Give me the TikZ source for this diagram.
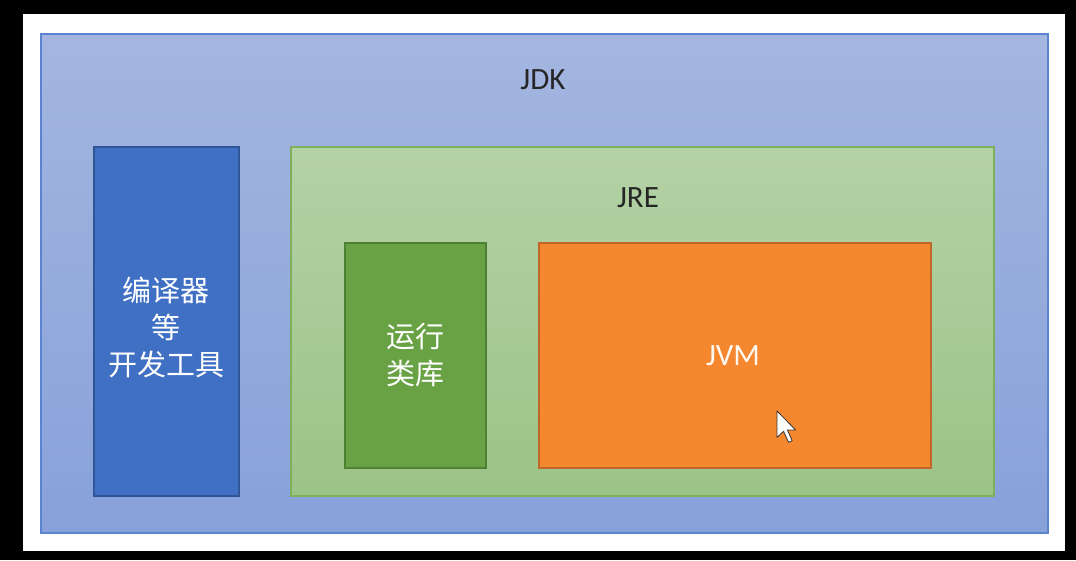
\documentclass[tikz,border=0pt]{standalone}
\usepackage{fontspec}
\setmainfont{Carlito}
\newfontfamily\cjk{Noto Sans CJK SC}
\definecolor{jdkTop}{HTML}{A4B6E0}
\definecolor{jdkBot}{HTML}{87A1D9}
\definecolor{jdkLine}{HTML}{5B83CF}
\definecolor{toolFill}{HTML}{4070C4}
\definecolor{toolLine}{HTML}{2F5597}
\definecolor{jreTop}{HTML}{B4D2A6}
\definecolor{jreBot}{HTML}{9CC387}
\definecolor{jreLine}{HTML}{7CB15A}
\definecolor{libFill}{HTML}{68A244}
\definecolor{libLine}{HTML}{4E8034}
\definecolor{jvmFill}{HTML}{F5872E}
\definecolor{jvmLine}{HTML}{C0662A}
\tikzset{
  box/.style={draw, line width=1.2pt, inner sep=0pt},
  lbl/.style={font=\fontsize{31}{37}\selectfont, text=black!85},
  wlbl/.style={font=\fontsize{31}{37}\selectfont, text=white!95!orange},
  cjklbl/.style={font=\cjk\fontsize{29}{37}\selectfont, text=white, align=center}
}
\begin{document}
\begin{tikzpicture}[x=1pt,y=-1pt]
\useasboundingbox (0,0) rectangle (1076,560);
\fill[black] (0,0) rectangle (1076,560);
\fill[white] (23,14) rectangle (1065,551);
% JDK
\draw[box, draw=jdkLine, top color=jdkTop, bottom color=jdkBot] (41,34) rectangle (1048,533);
\node[lbl] (jdk) at (543,80) {JDK};
% tools
\draw[box, draw=toolLine, fill=toolFill] (94,147) rectangle (239,496);
\node[cjklbl] (tools) at (166,327) {编译器\\等\\开发工具};
% JRE
\draw[box, draw=jreLine, top color=jreTop, bottom color=jreBot] (291,147) rectangle (994,496);
\node[lbl] (jre) at (638,198) {JRE};
% libs
\draw[box, draw=libLine, fill=libFill] (345,243) rectangle (486,468);
\node[cjklbl] (lib) at (415,355) {运行\\类库};
% JVM
\draw[box, draw=jvmLine, fill=jvmFill] (539,243) rectangle (931,468);
\node[wlbl] (jvm) at (733,356) {JVM};
% mouse pointer
\begin{scope}[shift={(777,411)}, scale=1.65]
\draw[fill=white, draw=black!80, line width=0.8pt, line join=round]
  (0,0) -- (0,16) -- (4,12.3) -- (7,19) -- (9.2,18) -- (6.3,11.5) -- (11.3,11.5) -- cycle;
\end{scope}
\end{tikzpicture}
\end{document}
